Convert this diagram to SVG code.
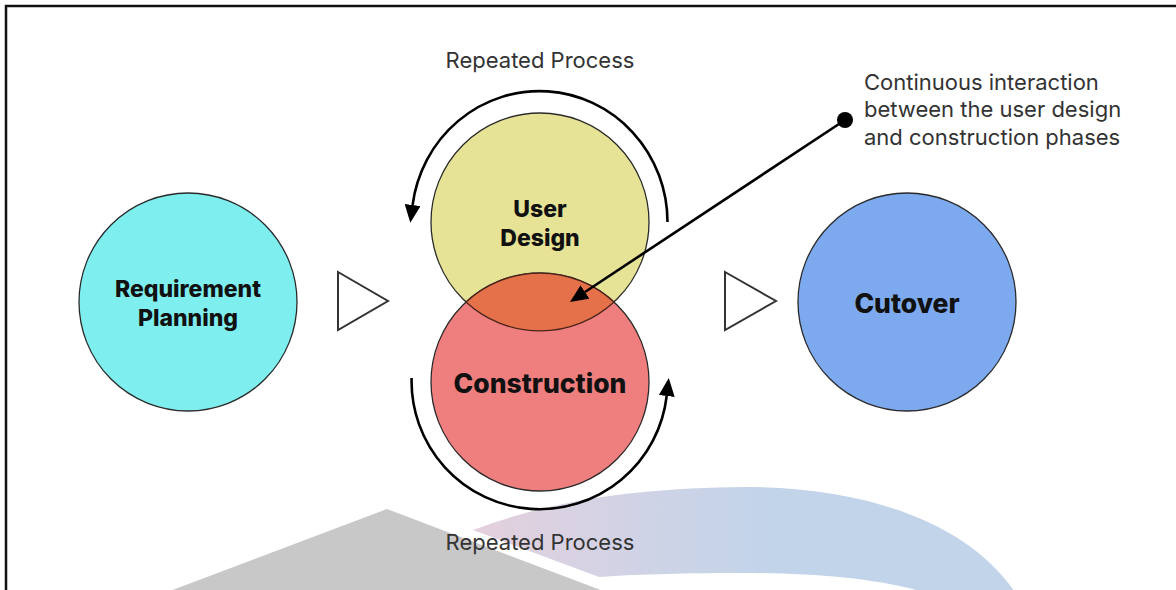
<svg xmlns="http://www.w3.org/2000/svg" width="1176" height="590" viewBox="0 0 1176 590">
  <style>
    .phase { stroke: #2a2a2a; stroke-width: 1.3; }
    .label { font-family: Inter, "Liberation Sans", sans-serif; font-weight: 800; fill: #111; text-anchor: middle; }
    .note { font-family: Inter, "Liberation Sans", sans-serif; font-size: 22px; fill: #333; }
    .flow { fill: #fff; stroke: #333; stroke-width: 2; stroke-linejoin: miter; }
    .loop { fill: none; stroke: #000; stroke-width: 2.6; }
  </style>
  <defs>
    <marker id="head" viewBox="0 0 18 16" refX="0" refY="8" markerWidth="18" markerHeight="16" markerUnits="userSpaceOnUse" orient="auto">
      <path d="M0,0 L18,8 L0,16 Z" fill="#000"/>
    </marker>
    <linearGradient id="bandFill" gradientUnits="userSpaceOnUse" x1="473" y1="0" x2="770" y2="0">
      <stop offset="0" stop-color="#e4cfdc"/>
      <stop offset="0.5" stop-color="#d2d3e5"/>
      <stop offset="1" stop-color="#c2d4ea"/>
    </linearGradient>
  </defs>

  <rect width="1176" height="590" fill="#fff"/>

  <!-- frame -->
  <path d="M6,592 L6,6 L1180,6" fill="none" stroke="#111" stroke-width="2.5"/>

  <!-- decorative background shapes at the bottom -->
  <g id="backdrop">
    <polygon points="387,509 627,600 146,600" fill="#c8c8c8"/>
    <path d="M473,530 C560,497 650,488 745,487 C870,487 975,525 1020,600 L945,600 C900,580 820,573 745,573 C690,573 640,574 599,577 Z" fill="url(#bandFill)"/>
  </g>

  <!-- phase: requirement planning -->
  <g id="requirement-planning">
    <circle cx="188" cy="302" r="109" fill="#7eeeee" class="phase"/>
    <text class="label" font-size="23" x="188" y="297">Requirement</text>
    <text class="label" font-size="23" x="188" y="326">Planning</text>
  </g>

  <!-- flow triangles -->
  <g id="step-1">
    <polygon class="flow" points="338,272 388,301 338,330"/>
  </g>
  <g id="step-2">
    <polygon class="flow" points="725,272 776,301 725,330"/>
  </g>

  <!-- phase: user design -->
  <g id="user-design">
    <circle cx="540" cy="222" r="109" fill="#e6e396" class="phase"/>
    <text class="label" font-size="23" x="540" y="217">User</text>
    <text class="label" font-size="23" x="540" y="246">Design</text>
  </g>

  <!-- phase: construction -->
  <g id="construction">
    <circle cx="540" cy="382" r="109" fill="#ef7f7e" class="phase"/>
    <path d="M466,302 A109,109 0 0 1 614,302 A109,109 0 0 1 466,302 Z" fill="#e5714b" stroke="#4a2418" stroke-width="1.3"/>
    <text class="label" font-size="26.5" x="540" y="393">Construction</text>
  </g>

  <!-- phase: cutover -->
  <g id="cutover">
    <circle cx="907" cy="302" r="109" fill="#7daaee" class="phase"/>
    <text class="label" font-size="26.5" x="907" y="313">Cutover</text>
  </g>

  <!-- connectors -->
  <g id="connectors">
    <path class="loop" d="M667.5,222 A128,131 0 0 0 412.6,205" marker-end="url(#head)"/>
    <path class="loop" d="M411.6,378 A128,128 0 0 0 666.7,396" marker-end="url(#head)"/>
    <line x1="845" y1="120" x2="585" y2="292" stroke="#000" stroke-width="2.6" marker-end="url(#head)"/>
    <circle cx="845" cy="120" r="8" fill="#000"/>
  </g>

  <!-- annotations -->
  <g id="notes">
    <text class="note" x="540" y="68" text-anchor="middle">Repeated Process</text>
    <text class="note" x="540" y="550" text-anchor="middle">Repeated Process</text>
    <text class="note" x="864" y="90">Continuous interaction</text>
    <text class="note" x="864" y="117">between the user design</text>
    <text class="note" x="864" y="145">and construction phases</text>
  </g>
</svg>
